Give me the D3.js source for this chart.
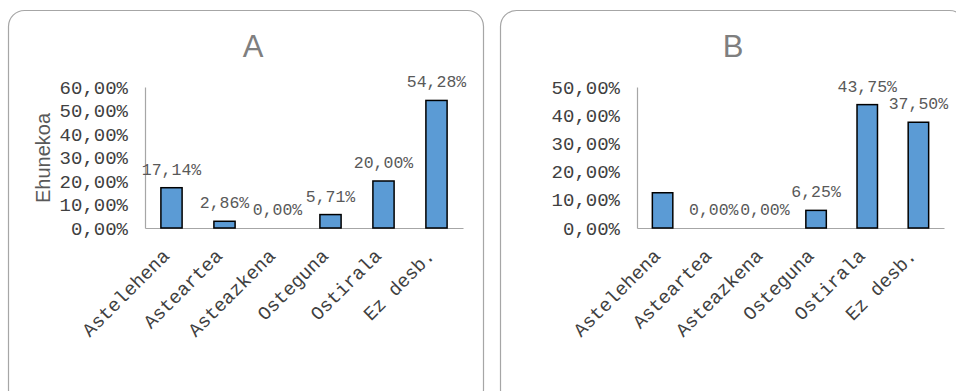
<!DOCTYPE html>
<html>
<head>
<meta charset="utf-8">
<script src="https://cdn.jsdelivr.net/npm/d3@7"></script>
<style>
html, body { margin: 0; padding: 0; background: #ffffff; }
svg { display: block; }
</style>
</head>
<body>
<svg id="chart" width="956" height="391"></svg>
<script>
// ---- data ----
const categories = ["Astelehena", "Asteartea", "Asteazkena", "Osteguna", "Ostirala", "Ez desb."];
const valuesA = [17.14, 2.86, 0.00, 5.71, 20.00, 54.28];
const valuesB = [12.50, 0.00, 0.00, 6.25, 43.75, 37.50];
const showLabelA = [true, true, true, true, true, true];
const showLabelB = [false, true, true, true, true, true];
const ticksA = [0, 10, 20, 30, 40, 50, 60];
const ticksB = [0, 10, 20, 30, 40, 50];
const titles = ["A", "B"];
const yTitleA = "Ehunekoa";

const fmt = v => d3.format(".2f")(v).replace(".", ",") + "%";
const mono = "'Liberation Mono', 'Cousine', monospace";
const sans = "'Liberation Sans', Arial, sans-serif";

const svg = d3.select("#chart");

function panel(cfg) {
  const g = svg.append("g");
  g.append("rect")
    .attr("x", cfg.box[0]).attr("y", cfg.box[1])
    .attr("width", cfg.box[2]).attr("height", cfg.box[3])
    .attr("rx", 16).attr("ry", 16)
    .attr("fill", "#ffffff").attr("stroke", "#a6a6a6").attr("stroke-width", 1.2);

  g.append("text")
    .attr("x", cfg.titleX).attr("y", 57)
    .attr("text-anchor", "middle")
    .attr("font-family", sans).attr("font-size", 31)
    .attr("fill", "#7f7f7f")
    .text(cfg.title);

  const x = d3.scaleBand().domain(categories).range([cfg.x0, cfg.x1])
    .paddingInner(0.6).paddingOuter(0.3);
  const y = d3.scaleLinear().domain([0, cfg.max]).range([228, 87]);

  // y axis
  const ya = g.append("g").attr("transform", `translate(${cfg.x0},0)`)
    .call(d3.axisLeft(y).tickValues(cfg.ticks).tickSize(0).tickPadding(17).tickFormat(fmt));
  ya.select(".domain").attr("stroke", "#a6a6a6").attr("stroke-width", 1.2);
  ya.selectAll("text").attr("font-family", mono).attr("font-size", 19).attr("fill", "#404040");

  // x axis
  const xa = g.append("g").attr("transform", `translate(0,228)`)
    .call(d3.axisBottom(x).tickSize(0).tickSizeOuter(0));
  xa.select(".domain").attr("stroke", "#a6a6a6").attr("stroke-width", 1.2);
  xa.selectAll("text")
    .attr("font-family", mono).attr("font-size", 19).attr("fill", "#404040")
    .attr("text-anchor", "end")
    .attr("y", 0).attr("dy", 0)
    .attr("transform", "translate(-1,29) rotate(-45)");

  // bars
  g.selectAll("rect.bar").data(cfg.values).join("rect")
    .attr("class", "bar")
    .attr("x", (d, i) => x(categories[i]))
    .attr("y", d => y(d))
    .attr("width", x.bandwidth())
    .attr("height", d => y(0) - y(d))
    .attr("fill", "#5b9bd5")
    .attr("stroke", d => d > 0 ? "#000000" : "none")
    .attr("stroke-width", 1.5);

  // value labels
  g.selectAll("text.val").data(cfg.values).join("text")
    .attr("class", "val")
    .attr("x", (d, i) => x(categories[i]) + x.bandwidth() / 2)
    .attr("y", d => y(d) - 13)
    .attr("text-anchor", "middle")
    .attr("font-family", mono).attr("font-size", 16.5)
    .attr("fill", "#595959")
    .text((d, i) => cfg.show[i] ? fmt(d) : "");

  if (cfg.yTitle) {
    g.append("text")
      .attr("transform", `translate(50,158) rotate(-90)`)
      .attr("text-anchor", "middle")
      .attr("font-family", sans).attr("font-size", 20)
      .attr("fill", "#595959")
      .text(cfg.yTitle);
  }
}

panel({ box: [8.5, 10.5, 475, 395], title: titles[0], titleX: 253, x0: 145, x1: 463,
        max: 60, ticks: ticksA, values: valuesA, show: showLabelA, yTitle: yTitleA });
panel({ box: [500.5, 10.5, 465, 395], title: titles[1], titleX: 733, x0: 637, x1: 944,
        max: 50, ticks: ticksB, values: valuesB, show: showLabelB, yTitle: null });
</script>
</body>
</html>
